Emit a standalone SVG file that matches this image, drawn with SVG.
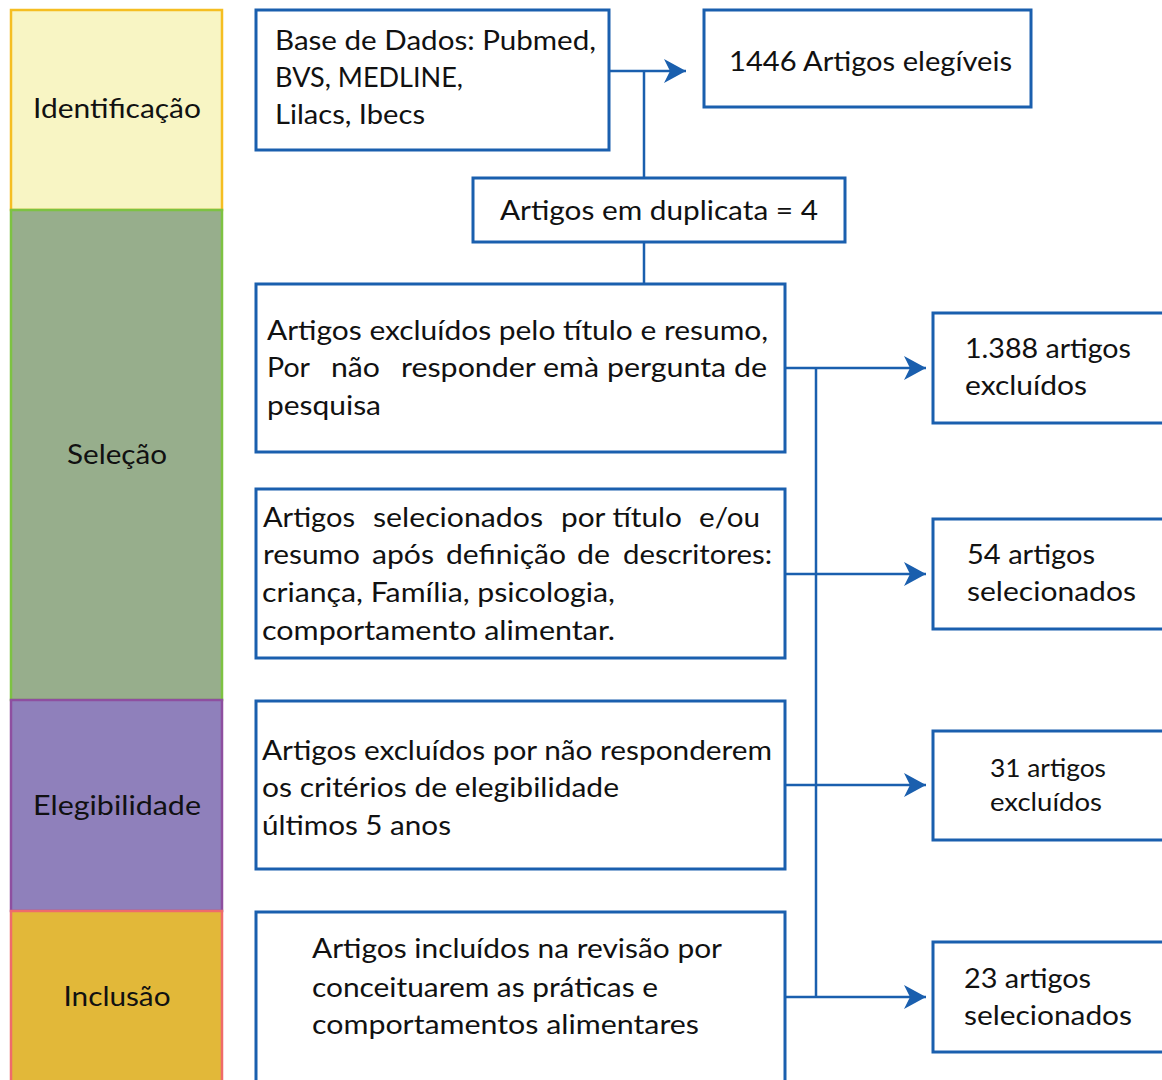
<svg xmlns="http://www.w3.org/2000/svg" width="1162" height="1080" viewBox="0 0 1162 1080">
<style>
.t{font-family:Lato,"Open Sans","Liberation Sans",sans-serif;font-size:27px;fill:#111}
.s{font-size:25px}
.box{fill:#fff;stroke:#1a5fae;stroke-width:3}
.ln{fill:none;stroke:#1a5fae;stroke-width:2.5}
.c{text-anchor:middle}
</style>
<defs>
<marker id="ar" markerUnits="userSpaceOnUse" markerWidth="24" markerHeight="26" refX="22" refY="12" orient="auto">
<path d="M0,0 L22,12 L0,24 L6,12 Z" fill="#1a5fae"/>
</marker>
</defs>
<rect width="1162" height="1080" fill="#fff"/>
<g id="stage-identificacao">
<rect x="11" y="10" width="211" height="200" fill="#f8f5c4" stroke="#f5be22" stroke-width="2.5"/>
<text class="t c" x="117" y="118" textLength="168" lengthAdjust="spacingAndGlyphs">Identificação</text>
</g>
<g id="stage-selecao">
<rect x="11" y="210" width="211" height="490" fill="#97ae8c" stroke="#7dc242" stroke-width="2.5"/>
<text class="t c" x="117" y="464" textLength="100" lengthAdjust="spacingAndGlyphs">Seleção</text>
</g>
<g id="stage-elegibilidade">
<rect x="11" y="700" width="211" height="211" fill="#8f80bb" stroke="#8e4fa0" stroke-width="2.5"/>
<text class="t c" x="117" y="815" textLength="168" lengthAdjust="spacingAndGlyphs">Elegibilidade</text>
</g>
<g id="stage-inclusao">
<rect x="11" y="911" width="211" height="175" fill="#e2b839" stroke="#ef6b6b" stroke-width="2.5"/>
<text class="t c" x="117" y="1006" textLength="107" lengthAdjust="spacingAndGlyphs">Inclusão</text>
</g>
<g id="connectors">
<path class="ln" d="M609,71 H686" marker-end="url(#ar)"/>
<path class="ln" d="M644,71 V178 M644,242 V284"/>
<path class="ln" d="M816,368 V997"/>
<path class="ln" d="M785,368 H926" marker-end="url(#ar)"/>
<path class="ln" d="M785,574 H926" marker-end="url(#ar)"/>
<path class="ln" d="M785,785 H926" marker-end="url(#ar)"/>
<path class="ln" d="M785,997 H926" marker-end="url(#ar)"/>
</g>
<g id="node-base">
<rect class="box" x="256" y="10" width="353" height="140"/>
<text class="t" x="275" y="50" textLength="321" lengthAdjust="spacingAndGlyphs">Base de Dados: Pubmed,</text>
<text class="t" x="275" y="87" textLength="188" lengthAdjust="spacingAndGlyphs">BVS, MEDLINE,</text>
<text class="t" x="275" y="124" textLength="150" lengthAdjust="spacingAndGlyphs">Lilacs, Ibecs</text>
</g>
<g id="node-elegiveis">
<rect class="box" x="704" y="10" width="327" height="97"/>
<text class="t" x="729" y="71" textLength="283" lengthAdjust="spacingAndGlyphs">1446 Artigos elegíveis</text>
</g>
<g id="node-duplicata">
<rect class="box" x="473" y="178" width="372" height="64"/>
<text class="t" x="500" y="220" textLength="318" lengthAdjust="spacingAndGlyphs">Artigos em duplicata = 4</text>
</g>
<g id="node-excluidos-titulo">
<rect class="box" x="256" y="284" width="529" height="168"/>
<text class="t" x="267" y="340" textLength="501" lengthAdjust="spacingAndGlyphs">Artigos excluídos pelo título e resumo,</text>
<text class="t" x="267" y="377" textLength="43" lengthAdjust="spacingAndGlyphs">Por</text>
<text class="t" x="331" y="377" textLength="49" lengthAdjust="spacingAndGlyphs">não</text>
<text class="t" x="401" y="377" textLength="366" lengthAdjust="spacingAndGlyphs">responder emà pergunta de</text>
<text class="t" x="267" y="415" textLength="114" lengthAdjust="spacingAndGlyphs">pesquisa</text>
</g>
<g id="node-selecionados">
<rect class="box" x="256" y="489" width="529" height="169"/>
<text class="t" x="263" y="527" textLength="92" lengthAdjust="spacingAndGlyphs">Artigos</text>
<text class="t" x="373" y="527" textLength="170" lengthAdjust="spacingAndGlyphs">selecionados</text>
<text class="t" x="561" y="527" textLength="121" lengthAdjust="spacingAndGlyphs">por título</text>
<text class="t" x="699" y="527" textLength="61" lengthAdjust="spacingAndGlyphs">e/ou</text>
<text class="t" x="263" y="564" textLength="97" lengthAdjust="spacingAndGlyphs">resumo</text>
<text class="t" x="372" y="564" textLength="62" lengthAdjust="spacingAndGlyphs">após</text>
<text class="t" x="446" y="564" textLength="120" lengthAdjust="spacingAndGlyphs">definição</text>
<text class="t" x="577" y="564" textLength="33" lengthAdjust="spacingAndGlyphs">de</text>
<text class="t" x="623" y="564" textLength="149" lengthAdjust="spacingAndGlyphs">descritores:</text>
<text class="t" x="262" y="602" textLength="353" lengthAdjust="spacingAndGlyphs">criança, Família, psicologia,</text>
<text class="t" x="262" y="640" textLength="353" lengthAdjust="spacingAndGlyphs">comportamento alimentar.</text>
</g>
<g id="node-criterios">
<rect class="box" x="256" y="701" width="529" height="168"/>
<text class="t" x="262" y="760" textLength="510" lengthAdjust="spacingAndGlyphs">Artigos excluídos por não responderem</text>
<text class="t" x="262" y="797" textLength="357" lengthAdjust="spacingAndGlyphs">os critérios de elegibilidade</text>
<text class="t" x="262" y="835" textLength="189" lengthAdjust="spacingAndGlyphs">últimos 5 anos</text>
</g>
<g id="node-incluidos">
<rect class="box" x="256" y="912" width="529" height="180"/>
<text class="t" x="312" y="958" textLength="410" lengthAdjust="spacingAndGlyphs">Artigos incluídos na revisão por</text>
<text class="t" x="312" y="997" textLength="346" lengthAdjust="spacingAndGlyphs">conceituarem as práticas e</text>
<text class="t" x="312" y="1034" textLength="387" lengthAdjust="spacingAndGlyphs">comportamentos alimentares</text>
</g>
<g id="node-1388">
<rect class="box" x="933" y="313" width="240" height="110"/>
<text class="t" x="965" y="358" textLength="166" lengthAdjust="spacingAndGlyphs">1.388 artigos</text>
<text class="t" x="965" y="395" textLength="122" lengthAdjust="spacingAndGlyphs">excluídos</text>
</g>
<g id="node-54">
<rect class="box" x="933" y="519" width="240" height="110"/>
<text class="t" x="967" y="564" textLength="128" lengthAdjust="spacingAndGlyphs">54 artigos</text>
<text class="t" x="967" y="601" textLength="169" lengthAdjust="spacingAndGlyphs">selecionados</text>
</g>
<g id="node-31">
<rect class="box" x="933" y="731" width="240" height="109"/>
<text class="t s" x="990" y="777" textLength="116" lengthAdjust="spacingAndGlyphs">31 artigos</text>
<text class="t s" x="990" y="811" textLength="112" lengthAdjust="spacingAndGlyphs">excluídos</text>
</g>
<g id="node-23">
<rect class="box" x="933" y="942" width="240" height="110"/>
<text class="t" x="964" y="988" textLength="127" lengthAdjust="spacingAndGlyphs">23 artigos</text>
<text class="t" x="964" y="1025" textLength="168" lengthAdjust="spacingAndGlyphs">selecionados</text>
</g>
</svg>
